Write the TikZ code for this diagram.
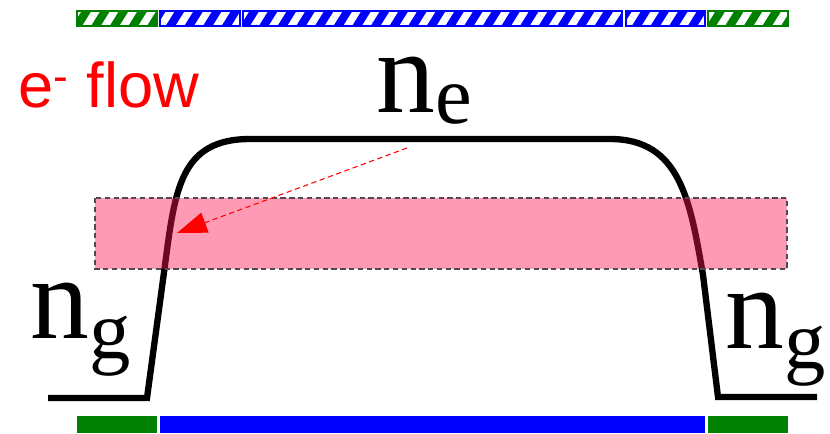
\documentclass[tikz,border=0pt]{standalone}
\usepackage{fontspec}
\newfontfamily\densfont{Liberation Serif}
\newfontfamily\flowfont{Liberation Sans}
\usetikzlibrary{arrows.meta, patterns.meta}

\definecolor{bargreen}{RGB}{0,128,0}
\definecolor{bandpink}{RGB}{255,20,80}

% subscript of a density label, dropped by #1
\newcommand{\denssub}[2]{\raisebox{-#1}{\fontsize{47}{47}\selectfont #2}}

\tikzset{
    hatchbar/.style={preaction={fill=#1}, pattern={Lines[angle=58, distance=9pt, line width=4.2pt]}, pattern color=white, draw=#1, line width=1.2pt},
    profile/.style={line width=3.6pt, line join=miter},
    band/.style={fill=bandpink, fill opacity=0.43, draw=black!70, dash pattern=on 3pt off 2pt, line width=0.6pt},
    flowarrow/.style={red, dash pattern=on 3pt off 2pt, line width=0.6pt, -{Triangle[length=17pt, width=12pt]}},
    denslabel/.style={inner sep=0pt, anchor=base west, font=\densfont\fontsize{67}{67}\selectfont},
    flowlabel/.style={inner sep=0pt, anchor=base west, red, font=\flowfont\fontsize{36}{36}\selectfont}
}

\begin{document}
\begin{tikzpicture}[x=0.02cm, y=-0.02cm]
    \useasboundingbox (0,0) rectangle (830,433);
    % hatched bars on top
    \foreach \xa/\xb/\c in {77/157/bargreen, 160/240/blue, 243/622/blue, 626/705/blue, 708/788/bargreen}
        \path[hatchbar=\c] (\xa,11) rectangle (\xb,26);
    % solid bars at the bottom
    \foreach \xa/\xb/\c in {77/157/bargreen, 160/705/blue, 708/788/bargreen}
        \fill[\c] (\xa,416) rectangle (\xb,433);
    % density profile
    \draw[profile] (48,398) -- (147,398) -- (165,265)
        .. controls (175,190) and (180,139) .. (250,139) -- (610,139)
        .. controls (680,139) and (690,200) .. (703,275) -- (718,397) -- (817,397);
    \draw[band] (95,198) rectangle (787,269);
    % labels
    \node[flowlabel] (flow) at (18,107) {e\textsuperscript{-} flow};
    \node[denslabel] (ne) at (376,112) {n\denssub{0.22cm}{e}};
    \node[denslabel] (ngleft) at (30,338) {n\denssub{0.4cm}{g}};
    \node[denslabel] (ngright) at (725,348) {n\denssub{0.4cm}{g}};
    \coordinate (flowstart) at (407,148);
    \coordinate (flowend) at (177,233);
    \draw[flowarrow] (flowstart) -- (flowend);
\end{tikzpicture}
\end{document}
